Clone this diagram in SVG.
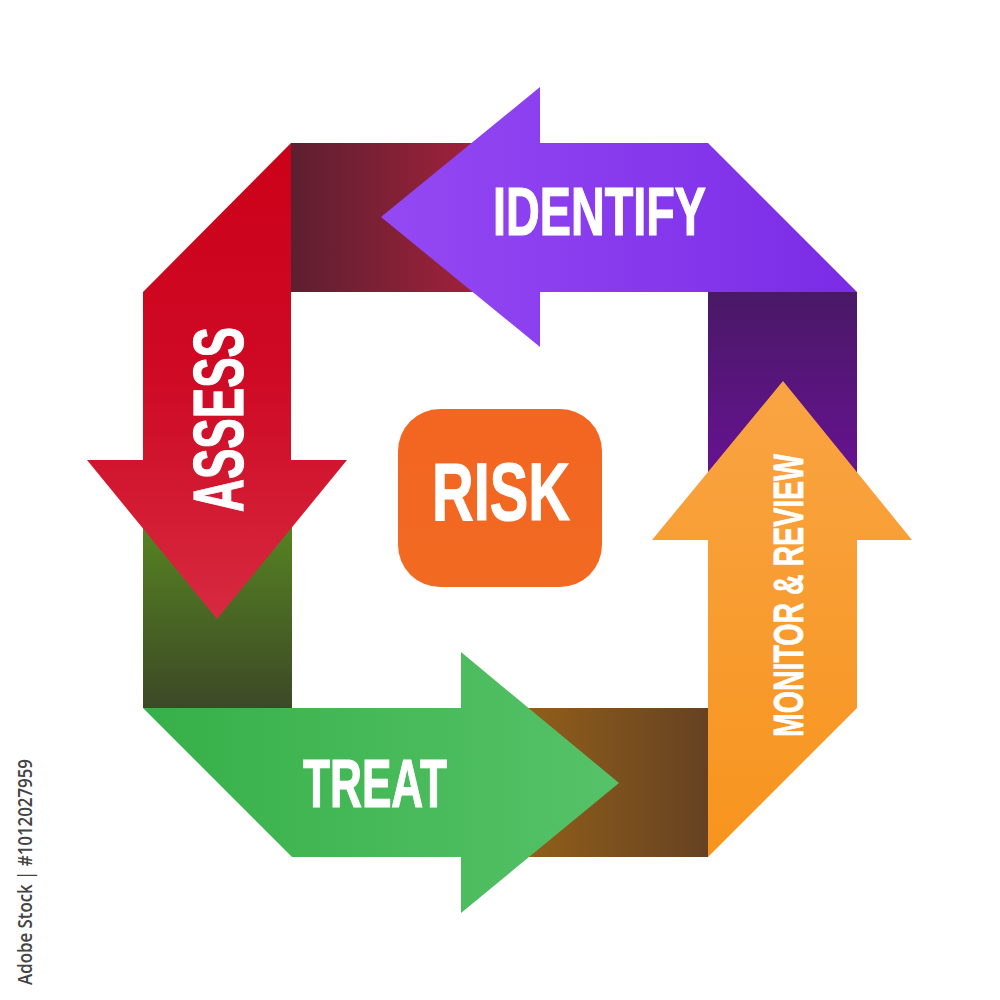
<svg xmlns="http://www.w3.org/2000/svg" width="1000" height="1000" viewBox="0 0 1000 1000">
  <defs>
    <linearGradient id="gPurple" x1="381" y1="0" x2="857" y2="0" gradientUnits="userSpaceOnUse">
      <stop offset="0" stop-color="#9449f3"/>
      <stop offset="1" stop-color="#7a2ce6"/>
    </linearGradient>
    <linearGradient id="gRed" x1="0" y1="143" x2="0" y2="619" gradientUnits="userSpaceOnUse">
      <stop offset="0" stop-color="#cc0019"/>
      <stop offset="0.5" stop-color="#cf0a25"/>
      <stop offset="1" stop-color="#d62a40"/>
    </linearGradient>
    <linearGradient id="gGreen" x1="143" y1="0" x2="619" y2="0" gradientUnits="userSpaceOnUse">
      <stop offset="0" stop-color="#36b048"/>
      <stop offset="1" stop-color="#56c269"/>
    </linearGradient>
    <linearGradient id="gOrange" x1="0" y1="857" x2="0" y2="381" gradientUnits="userSpaceOnUse">
      <stop offset="0" stop-color="#f7941d"/>
      <stop offset="1" stop-color="#f9a443"/>
    </linearGradient>
    <linearGradient id="gMaroon" x1="291" y1="0" x2="480" y2="0" gradientUnits="userSpaceOnUse">
      <stop offset="0" stop-color="#5d1f30"/>
      <stop offset="1" stop-color="#a2213b"/>
    </linearGradient>
    <linearGradient id="gDkGreen" x1="0" y1="530" x2="0" y2="708" gradientUnits="userSpaceOnUse">
      <stop offset="0" stop-color="#558122"/>
      <stop offset="1" stop-color="#3c4926"/>
    </linearGradient>
    <linearGradient id="gBrown" x1="530" y1="0" x2="708" y2="0" gradientUnits="userSpaceOnUse">
      <stop offset="0" stop-color="#905e1a"/>
      <stop offset="1" stop-color="#664222"/>
    </linearGradient>
    <linearGradient id="gDkPurple" x1="0" y1="292" x2="0" y2="470" gradientUnits="userSpaceOnUse">
      <stop offset="0" stop-color="#491966"/>
      <stop offset="1" stop-color="#661290"/>
    </linearGradient>
    <linearGradient id="gRisk" x1="0" y1="409" x2="0" y2="587" gradientUnits="userSpaceOnUse">
      <stop offset="0" stop-color="#f26522"/>
      <stop offset="1" stop-color="#f26a22"/>
    </linearGradient>
  </defs>
  <style>
    .lbl { font-family: "Liberation Sans", Arial, sans-serif; font-weight: bold; fill: #ffffff; stroke: #ffffff; stroke-width: 1.2; }
    .side { font-family: "Open Sans", "DejaVu Sans", sans-serif; font-weight: 600; fill: #444444; font-size: 20px; }
  </style>
  <rect width="1000" height="1000" fill="#ffffff"/>

  <g id="folds">
    <rect x="291" y="143" width="250" height="149" fill="url(#gMaroon)"/>
    <rect x="143" y="460" width="149" height="248" fill="url(#gDkGreen)"/>
    <rect x="461" y="708" width="247" height="149" fill="url(#gBrown)"/>
    <rect x="708" y="292" width="149" height="248" fill="url(#gDkPurple)"/>
  </g>

  <g id="identify">
    <polygon points="381,217 540,87 540,143 708,143 857,292 540,292 540,347" fill="url(#gPurple)"/>
    <text class="lbl" x="493" y="235" font-size="68" textLength="213" lengthAdjust="spacingAndGlyphs">IDENTIFY</text>
  </g>

  <g id="assess">
    <polygon points="291,143 291,460 347,460 217,619 87,460 143,460 143,292" fill="url(#gRed)"/>
    <text class="lbl" transform="translate(243,512) rotate(-90)" x="0" y="0" font-size="71" textLength="185" lengthAdjust="spacingAndGlyphs">ASSESS</text>
  </g>

  <g id="treat">
    <polygon points="143,708 461,708 461,652 619,783 461,913 461,857 292,857" fill="url(#gGreen)"/>
    <text class="lbl" x="303" y="807" font-size="68" textLength="144" lengthAdjust="spacingAndGlyphs">TREAT</text>
  </g>

  <g id="monitor">
    <polygon points="857,708 857,540 912,540 783,381 652,540 708,540 708,857" fill="url(#gOrange)"/>
    <text class="lbl" transform="translate(803,737) rotate(-90)" x="0" y="0" font-size="43" textLength="283" lengthAdjust="spacingAndGlyphs" style="stroke-width:0.8">MONITOR &amp; REVIEW</text>
  </g>

  <g id="risk">
    <rect x="398" y="409" width="204" height="178" rx="42" ry="42" fill="url(#gRisk)"/>
    <text class="lbl" x="432" y="520" font-size="81" textLength="138" lengthAdjust="spacingAndGlyphs">RISK</text>
  </g>

  <g id="connectors"></g>

  <text class="side" transform="translate(32,759) rotate(-90)" x="0" y="0" text-anchor="end" textLength="226" lengthAdjust="spacingAndGlyphs">Adobe Stock | #1012027959</text>
</svg>
